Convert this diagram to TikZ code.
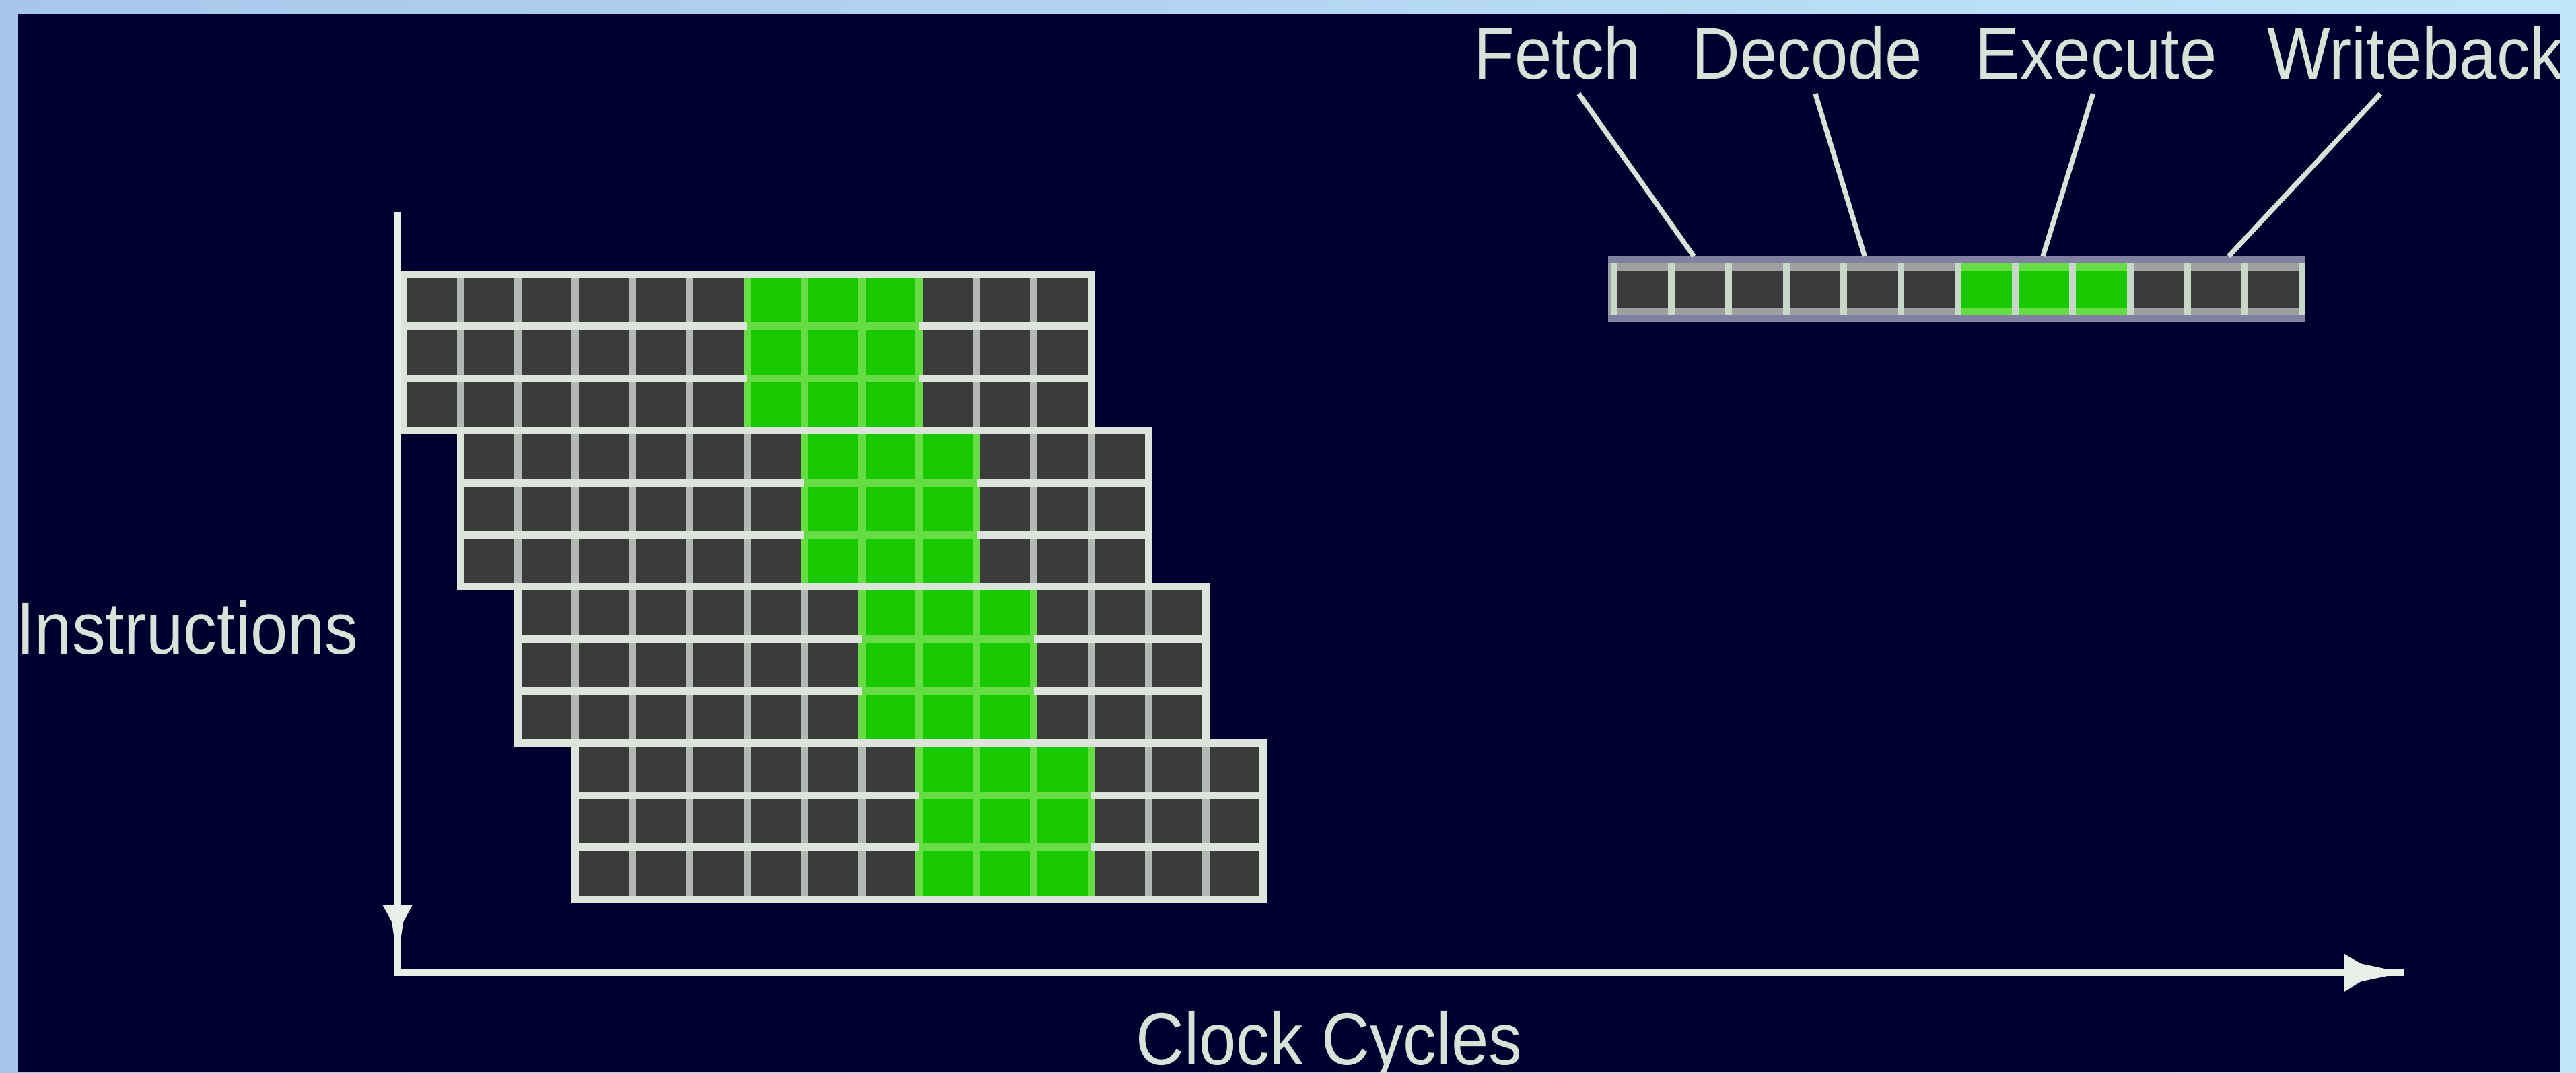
\documentclass[tikz,border=0pt]{standalone}
\usepackage{fontspec}
\setmainfont{Liberation Sans}
\definecolor{bgnavy}{HTML}{00002E}
\definecolor{frameL}{HTML}{A8C6EA}
\definecolor{frameR}{HTML}{C0E6FA}
\definecolor{celldark}{HTML}{3B3B3B}
\definecolor{cellgreen}{HTML}{19C900}
\definecolor{greenline}{HTML}{66DD44}
\definecolor{gridlight}{HTML}{DCE4DC}
\definecolor{gridgray}{HTML}{B4B8B4}
\definecolor{barframe}{HTML}{8080A0}
\definecolor{barband}{HTML}{A0A0A0}
\definecolor{barsep}{HTML}{C8D8C8}
\definecolor{txt}{HTML}{D8E2D8}
\definecolor{axisc}{HTML}{E8EEE8}
\begin{document}
\begin{tikzpicture}[x=0.01cm,y=-0.01cm,
  lbl/.style={font=\fontsize{12.72pt}{15pt}\selectfont, text=txt, inner sep=0pt, xscale=0.91},
  hln/.style={draw=gridlight, line width=0.045cm},
  vln/.style={draw=gridgray, line width=0.045cm},
  gln/.style={draw=greenline, line width=0.045cm},
  axisline/.style={draw=axisc, line width=0.042cm, line join=miter},
  leader/.style={draw=txt, line width=0.03cm},
  sepline/.style={draw=barsep, line width=0.041cm}]
\useasboundingbox (0,0) rectangle (1568,652.7);
% frame and background
\shade[left color=frameL, right color=frameR] (0,0) rectangle (1568,652.7);
\fill[bgnavy] (10.7,8.6) rectangle (1558.2,652.7);

% staircase grid
\foreach \b in {0,...,3} {
  \pgfmathsetmacro\bx{245.4+34.9*\b}
  \pgfmathsetmacro\by{167+95.1*\b}
  \foreach \i in {0,...,11} {
    \fill[celldark] ({\bx+34.9*\i},\by) rectangle ({\bx+34.9*(\i+1)},{\by+95.1});
  }
  \fill[cellgreen] ({\bx+34.9*6},\by) rectangle ({\bx+34.9*9},{\by+95.1});
  \foreach \k in {1,...,11} {
    \draw[vln] ({\bx+34.9*\k},\by) -- ({\bx+34.9*\k},{\by+95.1});
  }
  \foreach \k in {6,...,9} {
    \draw[gln] ({\bx+34.9*\k},\by) -- ({\bx+34.9*\k},{\by+95.1});
  }
  \foreach \j in {1,2} {
    \draw[hln] (\bx,{\by+31.7*\j}) -- ({\bx+418.8},{\by+31.7*\j});
    \draw[gln] ({\bx+34.9*6},{\by+31.7*\j}) -- ({\bx+34.9*9},{\by+31.7*\j});
  }
  \draw[hln] (\bx,\by) rectangle ({\bx+418.8},{\by+95.1});
}

% axes
\coordinate (vtop) at (242,129);
\coordinate (origin) at (242,592);
\coordinate (htip) at (1463,592);
\draw[axisline] (vtop) -- (origin) -- (htip);
\fill[axisc] (233,551) -- (238.5,561) -- (242,585) -- (245.5,561) -- (251,551) -- cycle;
\fill[axisc] (1427,580.5) -- (1437,586.5) -- (htip) -- (1437,597.5) -- (1427,603.5) -- cycle;

% axis labels
\node[lbl, anchor=base] (instr) at (114,398) {Instructions};
\node[lbl, anchor=base] (clock) at (809,648) {Clock Cycles};

% single pipeline bar
\fill[barframe] (979,155.7) rectangle (1403,196.1);
\fill[barband] (979,160.2) rectangle (1403,191.6);
\fill[greenline] ({982.5+34.9*6},160.2) rectangle ({982.5+34.9*9},191.6);
\foreach \k in {0,...,11} {
  \fill[celldark] ({982.5+34.9*\k},164.6) rectangle ({982.5+34.9*(\k+1)},187.1);
}
\foreach \k in {6,7,8} {
  \fill[cellgreen] ({982.5+34.9*\k},164.6) rectangle ({982.5+34.9*(\k+1)},187.1);
}
\foreach \k in {0,...,12} {
  \draw[sepline] ({982.5+34.9*\k},160.2) -- ({982.5+34.9*\k},191.6);
}

% stage labels
\node[lbl, anchor=base] (fetch) at (948,48) {Fetch};
\node[lbl, anchor=base] (decode) at (1100,48) {Decode};
\node[lbl, anchor=base] (execute) at (1276,48) {Execute};
\node[lbl, anchor=base west] (writeback) at (1379.6,48) {Writeback};

% leaders
\coordinate (ftop) at (961,57);   \coordinate (fbot) at (1031,156);
\coordinate (dtop) at (1105,57);  \coordinate (dbot) at (1135,156);
\coordinate (etop) at (1274,57);  \coordinate (ebot) at (1243.5,156);
\coordinate (wtop) at (1449,57);  \coordinate (wbot) at (1356.6,156);
\draw[leader] (ftop) -- (fbot);
\draw[leader] (dtop) -- (dbot);
\draw[leader] (etop) -- (ebot);
\draw[leader] (wtop) -- (wbot);

% right frame band drawn over clipped text
\fill[frameR] (1558.2,0) rectangle (1568,652.7);
\end{tikzpicture}
\end{document}
